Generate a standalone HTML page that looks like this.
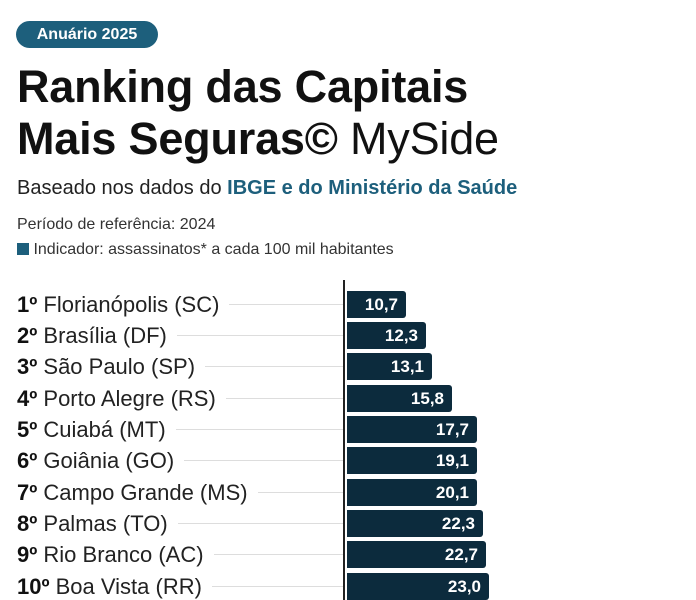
<!DOCTYPE html>
<html><head><meta charset="utf-8"><style>
body{margin:0;width:696px;height:600px;background:#fff;font-family:"Liberation Sans",sans-serif;position:relative;overflow:hidden}
.badge{position:absolute;left:16px;top:21px;width:142px;height:27px;border-radius:14px;background:#1d5f7c;color:#fff;font-weight:bold;font-size:16px;line-height:27px;text-align:center}
.t{position:absolute;left:17px;font-weight:bold;font-size:45px;color:#111;letter-spacing:-0.2px;line-height:52px}
.s{position:absolute;left:17px;top:177px;font-size:20px;color:#222}
.s b{color:#1d5f7c}
.p{position:absolute;left:17px;font-size:16px;color:#333}
.row{position:absolute;left:0;width:696px;height:27px}
.lab{position:absolute;left:17px;top:1px;font-size:22px;color:#222;white-space:nowrap;background:#fff;padding-right:10px}
.lab b{color:#111}
.dot{position:absolute;left:150px;width:194px;top:13px;border-top:1px solid #ddd}
.bar{position:absolute;left:347px;top:0;height:27px;background:#0c2b3d;border-radius:0 3px 3px 0;color:#fff;font-weight:bold;font-size:17px;line-height:27px;text-align:right;box-sizing:border-box;padding-right:8px}
.axis{position:absolute;left:343px;top:280px;width:2px;height:320px;background:#222}
</style></head><body>
<div class="badge">Anuário 2025</div>
<div class="t" style="top:61px">Ranking das Capitais</div>
<div class="t" style="top:113px">Mais Seguras© <span style="font-weight:normal">MySide</span></div>
<div class="s">Baseado nos dados do <b>IBGE e do Ministério da Saúde</b></div>
<div class="p" style="top:216px">Período de referência: 2024</div>
<div class="p" style="top:241px"><span style="display:inline-block;width:12px;height:12px;background:#1d5f7c;vertical-align:-1px"></span> Indicador: assassinatos* a cada 100 mil habitantes</div>
<div class="row" style="top:291px"><div class="dot"></div><div class="lab"><b>1º</b> Florianópolis (SC)</div><div class="bar" style="width:59px">10,7</div></div>
<div class="row" style="top:322px"><div class="dot"></div><div class="lab"><b>2º</b> Brasília (DF)</div><div class="bar" style="width:79px">12,3</div></div>
<div class="row" style="top:353px"><div class="dot"></div><div class="lab"><b>3º</b> São Paulo (SP)</div><div class="bar" style="width:85px">13,1</div></div>
<div class="row" style="top:385px"><div class="dot"></div><div class="lab"><b>4º</b> Porto Alegre (RS)</div><div class="bar" style="width:105px">15,8</div></div>
<div class="row" style="top:416px"><div class="dot"></div><div class="lab"><b>5º</b> Cuiabá (MT)</div><div class="bar" style="width:130px">17,7</div></div>
<div class="row" style="top:447px"><div class="dot"></div><div class="lab"><b>6º</b> Goiânia (GO)</div><div class="bar" style="width:130px">19,1</div></div>
<div class="row" style="top:479px"><div class="dot"></div><div class="lab"><b>7º</b> Campo Grande (MS)</div><div class="bar" style="width:130px">20,1</div></div>
<div class="row" style="top:510px"><div class="dot"></div><div class="lab"><b>8º</b> Palmas (TO)</div><div class="bar" style="width:136px">22,3</div></div>
<div class="row" style="top:541px"><div class="dot"></div><div class="lab"><b>9º</b> Rio Branco (AC)</div><div class="bar" style="width:139px">22,7</div></div>
<div class="row" style="top:573px"><div class="dot"></div><div class="lab"><b>10º</b> Boa Vista (RR)</div><div class="bar" style="width:142px">23,0</div></div>
<div class="axis"></div>
</body></html>
